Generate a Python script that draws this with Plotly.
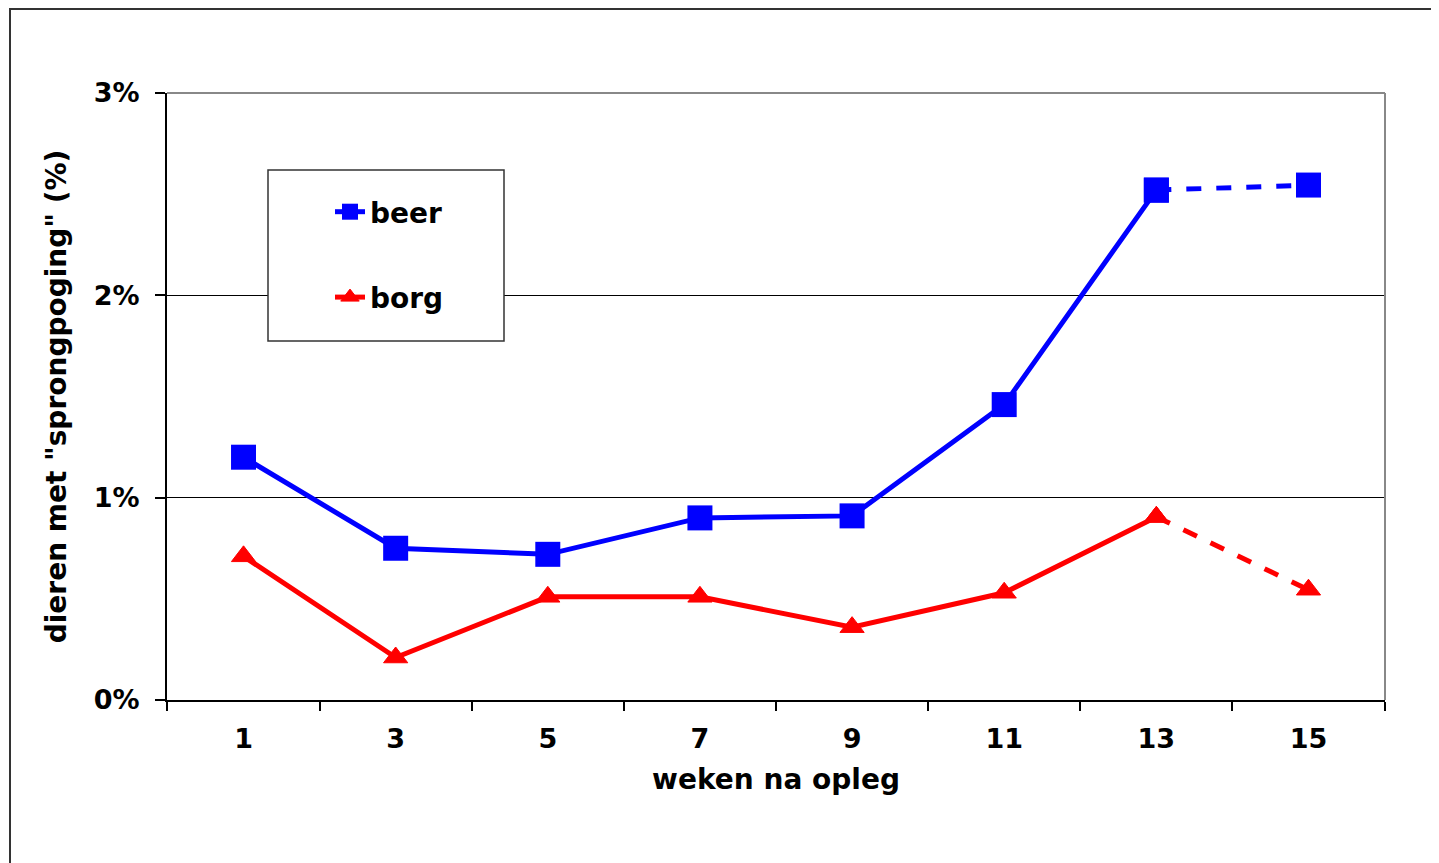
import plotly.graph_objects as go

weeks = ["1", "3", "5", "7", "9", "11", "13", "15"]
beer = [1.20, 0.75, 0.72, 0.90, 0.91, 1.46, 2.52, 2.545]
borg = [0.71, 0.21, 0.51, 0.51, 0.36, 0.53, 0.905, 0.545]
y_ticks = [0, 1, 2, 3]

# page offset introduced by the html body margin
OFF = 8
W, H = 1439 - OFF, 863 - OFF
L, R, T, B = 167 - OFF, 1385 - OFF, 93 - OFF, 700 - OFF
pw, ph = R - L, B - T


def px_x(p):  # page pixel -> paper
    return (p - OFF - L) / pw


def px_y(p):
    return (B - (p - OFF)) / ph


FONT = "DejaVu Sans"
BLUE = "#0000FF"
RED = "#FF0000"

fig = go.Figure()

# solid part (weeks 1..13)
fig.add_trace(go.Scatter(x=weeks[:7], y=beer[:7], mode="lines+markers", name="beer",
                         legendgroup="a",
                         line=dict(color=BLUE, width=5),
                         marker=dict(symbol="square", size=25, color=BLUE)))
fig.add_trace(go.Scatter(x=weeks[:7], y=borg[:7], mode="lines+markers", name="borg",
                         legendgroup="b",
                         line=dict(color=RED, width=5),
                         marker=dict(symbol="triangle-up", size=21, color=RED,
                                     line=dict(color=RED, width=1))))
# dashed part (weeks 13..15)
fig.add_trace(go.Scatter(x=weeks[6:], y=beer[6:], mode="lines+markers", showlegend=False,
                         line=dict(color=BLUE, width=5, dash="dash"),
                         marker=dict(symbol="square", size=25, color=BLUE)))
fig.add_trace(go.Scatter(x=weeks[6:], y=borg[6:], mode="lines+markers", showlegend=False,
                         line=dict(color=RED, width=5, dash="dash"),
                         marker=dict(symbol="triangle-up", size=21, color=RED,
                                     line=dict(color=RED, width=1))))

shapes = [
    # outer frame
    dict(type="rect", xref="paper", yref="paper",
         x0=px_x(10), x1=px_x(1600), y0=px_y(1000), y1=px_y(9),
         line=dict(color="#333333", width=2), fillcolor="rgba(0,0,0,0)", layer="below"),
    # legend box
    dict(type="rect", xref="paper", yref="paper",
         x0=px_x(268), x1=px_x(504), y0=px_y(341), y1=px_y(170),
         line=dict(color="#333333", width=1.5), fillcolor="white", layer="above"),
    # top and right borders (gray)
    dict(type="line", xref="paper", yref="paper", x0=0, x1=1, y0=1, y1=1,
         line=dict(color="#888888", width=2)),
    dict(type="line", xref="paper", yref="paper", x0=1, x1=1, y0=0, y1=1,
         line=dict(color="#888888", width=2)),
]

fig.update_layout(
    width=W, height=H,
    margin=dict(l=L, r=W - R, t=T, b=H - B),
    paper_bgcolor="white", plot_bgcolor="white",
    font=dict(family=FONT, color="black", size=24),
    shapes=shapes,
    showlegend=True,
    legend=dict(x=px_x(330), y=px_y(187), xanchor="left", yanchor="top",
                bgcolor="rgba(0,0,0,0)", borderwidth=0,
                font=dict(family=FONT, size=28, color="black", weight="bold"),
                tracegroupgap=46, itemwidth=30),
    xaxis=dict(
        type="category", tickson="boundaries", ticks="outside", ticklen=9,
        tickcolor="black", tickwidth=1.5,
        showline=True, linecolor="black", linewidth=2,
        showgrid=False, zeroline=False,
        ticklabelstandoff=14,
        tickfont=dict(family=FONT, size=27, weight="bold"),
        title=dict(text="weken na opleg", standoff=16,
                   font=dict(family=FONT, size=28, weight="bold")),
    ),
    yaxis=dict(
        range=[0, 3], tickvals=y_ticks, ticktext=[f"{v}%" for v in y_ticks],
        ticks="outside", ticklen=10, tickcolor="black", tickwidth=1.5,
        showline=True, linecolor="black", linewidth=2,
        showgrid=True, gridcolor="black", gridwidth=1,
        zeroline=False,
        ticklabelstandoff=10,
        tickfont=dict(family=FONT, size=27, weight="bold"),
        title=dict(text='dieren met "sprongpoging" (%)', standoff=19,
                   font=dict(family=FONT, size=28, weight="bold")),
    ),
)

fig.write_html("out.html")
